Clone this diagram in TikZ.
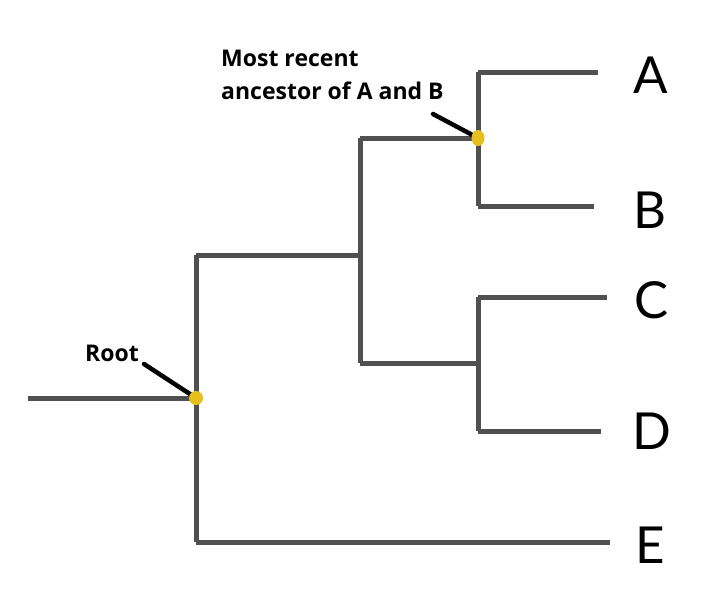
\documentclass[tikz,border=0pt]{standalone}
\usepackage{fontspec}
\usetikzlibrary{shapes.geometric}
\setmainfont{Lato}
\newfontfamily\labfont{Open Sans}
\definecolor{dotyellow}{HTML}{E6BE1E}
\definecolor{branchgray}{HTML}{505050}
\begin{document}
\begin{tikzpicture}[x=1pt,y=-1pt,
  branch/.style={draw=branchgray,line width=5pt,line cap=butt},
  leader/.style={draw=black,line width=4.5pt,line cap=round},
  dotnode/.style={ellipse,fill=dotyellow,inner sep=0pt,minimum width=13pt,minimum height=16pt},
  rootdot/.style={circle,fill=dotyellow,inner sep=0pt,minimum size=14pt},
  tip/.style={font=\fontsize{51}{51}\selectfont,anchor=center,inner sep=0pt},
  note/.style={font=\labfont\bfseries\fontsize{23}{33}\selectfont,align=left,inner sep=0pt}]
\useasboundingbox (0,0) rectangle (717,597);
% coordinates
\coordinate (start) at (28,398);
\coordinate (r) at (196,398);
\coordinate (rt) at (196,255);
\coordinate (rb) at (196,542);
\coordinate (n1) at (360,255);
\coordinate (n1t) at (360,138);
\coordinate (n1b) at (360,363);
\coordinate (ab) at (478,138);
\coordinate (abt) at (478,72);
\coordinate (abb) at (478,206);
\coordinate (cd) at (478,363);
\coordinate (cdt) at (478,297);
\coordinate (cdb) at (478,431);
\coordinate (ea) at (598,72);
\coordinate (eb) at (594,206);
\coordinate (ec) at (607,297);
\coordinate (ed) at (601,431);
\coordinate (ee) at (610,542);
% tree
\draw[branch] (start) -- (r);
\draw[branch] (rt) -- (rb);
\draw[branch] (rt) -- (n1);
\draw[branch] (rb) -- (ee);
\draw[branch] (n1t) -- (n1b);
\draw[branch] (n1t) -- (ab);
\draw[branch] (n1b) -- (cd);
\draw[branch] (abt) -- (abb);
\draw[branch] (abt) -- (ea);
\draw[branch] (abb) -- (eb);
\draw[branch] (cdt) -- (cdb);
\draw[branch] (cdt) -- (ec);
\draw[branch] (cdb) -- (ed);
% tip labels
\node[tip] (A) at (651,75) {A};
\node[tip] (B) at (650,210) {B};
\node[tip] (C) at (652,300) {C};
\node[tip] (D) at (652,431) {D};
\node[tip] (E) at (650,545) {E};
% notes
\node[note,anchor=north west] (mra) at (221,50) {Most recent\\ancestor of A and B};
\node[note,anchor=south west] (root) at (85,362) {Root};
\coordinate (mraend) at (433,114);
\coordinate (rootend) at (144,364);
\draw[leader] (mraend) -- (ab);
\draw[leader] (rootend) -- (r);
\node[dotnode] (dab) at (ab) {};
\node[rootdot] (dr) at (r) {};
\end{tikzpicture}
\end{document}
